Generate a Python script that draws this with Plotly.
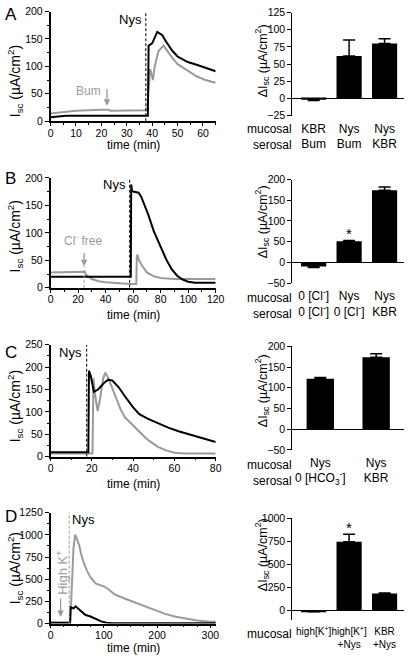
import plotly.graph_objects as go

W, H = 415, 663
FONT = "Liberation Sans, Arial, sans-serif"
GREY = "#9a9a9a"
BLACK = "#000000"

# ---------------- data: time courses ----------------
# Panel A (Bum serosal)
tA_black = [0, 3, 6, 10, 20, 30, 38.3, 38.6, 40, 42, 44, 45.5, 48, 50, 54, 57.5, 61, 65]
iA_black = [7, 9, 10, 10, 10, 10, 10, 138, 142, 163, 157, 145, 128, 118, 108, 103, 97, 91]
tA_grey = [0, 5, 10, 20, 22, 22.5, 23.5, 30, 38, 38.6, 39.2, 39.8, 40.3, 41, 42.5, 44.5, 46, 48, 50, 54, 57.5, 61, 65]
iA_grey = [14, 17, 19, 21, 22, 21, 19, 20, 20, 60, 95, 85, 75, 100, 128, 138, 128, 115, 104, 92, 82, 75, 70]
nys_A, bum_A = 37.5, 22.2

# Panel B (Cl- free)
tB_black = [0, 25, 58.3, 58.6, 59.2, 60, 62, 64, 66, 68, 71, 75, 80, 84, 88, 92, 96, 100, 105, 110, 120]
iB_black = [20, 20, 20, 188, 176, 175, 174, 173, 165, 152, 133, 103, 74, 52, 34, 22, 15, 11, 9, 9, 9]
tB_grey = [0, 24.5, 25, 25.5, 27, 30, 35, 40, 50, 58, 62.3, 62.7, 63.3, 64, 66, 68, 70, 75, 80, 90, 100, 120]
iB_grey = [28, 28, 29, 25, 21, 16, 12, 10, 8, 7, 7, 58, 60, 52, 42, 34, 28, 21, 18, 16, 16, 16]
nys_B, clfree_B = 57.5, 24.4

# Panel C (HCO3- free)
tC_black = [0, 18.3, 18.6, 19.5, 21, 23, 26, 28, 30, 33, 36, 40, 43, 47, 52, 57, 62, 67, 72, 76, 80]
iC_black = [10, 10, 192, 180, 145, 150, 165, 172, 170, 155, 135, 110, 95, 85, 75, 65, 57, 50, 44, 38, 33]
tC_grey = [0, 20.3, 20.8, 21.5, 22.8, 24, 25.5, 26.5, 28, 31, 34, 36, 40, 43, 47, 52, 56, 60, 65, 80]
iC_grey = [7, 7, 175, 140, 102, 130, 175, 188, 175, 140, 105, 88, 70, 55, 38, 22, 14, 9, 7, 7]
nys_C = 17.5

# Panel D (high K+)
tD_grey = [0, 37, 38, 40, 43, 46, 48, 50, 52, 54, 57, 62, 68, 75, 85, 95, 100, 108, 120, 140, 155, 175, 195, 215, 235, 255, 275, 300, 320]
iD_grey = [10, 10, 150, 500, 850, 1000, 980, 940, 900, 880, 790, 690, 600, 520, 450, 425, 420, 390, 330, 280, 245, 200, 150, 110, 78, 55, 35, 22, 18]
tD_black = [0, 36.5, 37.5, 40, 43, 47, 52, 58, 65, 75, 85, 95, 105, 115, 320]
iD_black = [10, 10, 185, 175, 170, 195, 170, 130, 100, 80, 50, 25, 10, 5, 5]
nys_D, highk_D = 35, 18.8

# ---------------- data: bar summaries ----------------
barA_cats = ["KBR<br>Bum", "Nys<br>Bum", "Nys<br>KBR"]
barA_vals = [-2, 62, 80]
barA_err = [1, 23, 7]
barA_star = [False, False, False]

barB_cats = ["0 [Cl<sup>-</sup>]<br>0 [Cl<sup>-</sup>]", "Nys<br>0 [Cl<sup>-</sup>]", "Nys<br>KBR"]
barB_vals = [-10, 51, 174]
barB_err = [2, 2, 8]
barB_star = [False, True, False]

barC_cats = ["Nys<br>0 [HCO<sub>3</sub><sup>-</sup>]", "Nys<br>KBR"]
barC_vals = [122, 174]
barC_err = [3, 8]
barC_star = [False, False]

barD_cats = ["high[K<sup>+</sup>]", "high[K<sup>+</sup>]<br>+Nys", "KBR<br>+Nys"]
barD_vals = [-10, 745, 184]
barD_err = [2, 82, 5]
barD_star = [False, True, False]


def xdom(l, r):
    return [l / W, r / W]


def ydom(top, bottom):
    return [1 - bottom / H, 1 - top / H]


def PY(p):
    return 1 - p / H


def PX(p):
    return p / W


fig = go.Figure()

trace_sets = [
    [(tA_grey, iA_grey, GREY), (tA_black, iA_black, BLACK)],
    [(tB_grey, iB_grey, GREY), (tB_black, iB_black, BLACK)],
    [(tC_grey, iC_grey, GREY), (tC_black, iC_black, BLACK)],
    [(tD_grey, iD_grey, GREY), (tD_black, iD_black, BLACK)],
]
bar_sets = [
    (barA_cats, barA_vals, barA_err, barA_star),
    (barB_cats, barB_vals, barB_err, barB_star),
    (barC_cats, barC_vals, barC_err, barC_star),
    (barD_cats, barD_vals, barD_err, barD_star),
]

trace_panels = [
    dict(dy=(5.7, 117.3), xr=[0, 65], xd=10, xm=5, yr=[0, 200], yd=50, ym=25),
    dict(dy=(175, 287), xr=[0, 120], xd=20, xm=10, yr=[0, 200], yd=50, ym=25),
    dict(dy=(345, 459), xr=[0, 80], xd=20, xm=10, yr=[0, 250], yd=50, ym=25),
    dict(dy=(516, 629), xr=[0, 310], xd=100, xm=25, yr=[0, 1250], yd=250, ym=125),
]
bar_panels = [
    dict(dy=(6.7, 111.7), yr=[-25, 125], yd=25, xr=[-0.6, 2.55], bw=0.71, fs=12),
    dict(dy=(176.7, 282.3), yr=[-50, 200], yd=50, xr=[-0.6, 2.55], bw=0.71, fs=12),
    dict(dy=(346.7, 452), yr=[-50, 200], yd=50, xr=[-0.5, 1.5], bw=0.49, fs=12),
    dict(dy=(521.7, 625.1), yr=[-100, 1000], yd=250, xr=[-0.6, 2.55], bw=0.71, fs=10),
]

layout = dict(
    width=W, height=H, margin=dict(l=0, r=0, t=0, b=0),
    paper_bgcolor="white", plot_bgcolor="white",
    font=dict(family=FONT, size=11, color="black"),
    showlegend=False,
)
annotations = []
shapes = []

for i in range(4):
    tx, ty = f"x{2*i+1}", f"y{2*i+1}"
    bx, by = f"x{2*i+2}", f"y{2*i+2}"
    tp = trace_panels[i]
    bp = bar_panels[i]
    for (t, v, c) in trace_sets[i]:
        fig.add_trace(go.Scatter(x=t, y=v, mode="lines", line=dict(color=c, width=2),
                                 xaxis=tx, yaxis=ty, hoverinfo="skip"))
    layout[f"xaxis{2*i+1}"] = dict(
        domain=xdom(49, 219), anchor=ty, range=tp["xr"], dtick=tp["xd"], tick0=0,
        showline=True, linecolor="black", linewidth=1.5, ticks="outside", ticklen=3,
        tickwidth=1.2, tickcolor="black", showgrid=False, zeroline=False,
        tickfont=dict(size=10.5), tickangle=0, ticklabelstandoff=-2,
        minor=dict(ticks="outside", ticklen=2, dtick=tp["xm"], tickcolor="black", tickwidth=1),
    )
    layout[f"yaxis{2*i+1}"] = dict(
        domain=ydom(*tp["dy"]), anchor=tx, range=tp["yr"], dtick=tp["yd"], tick0=0,
        showline=True, linecolor="black", linewidth=1.5, ticks="outside", ticklen=4,
        tickwidth=1.2, tickcolor="black", showgrid=False, zeroline=False,
        tickfont=dict(size=10.5),
        minor=dict(ticks="outside", ticklen=2, dtick=tp["ym"], tickcolor="black", tickwidth=1),
    )

    cats, vals, errs, stars = bar_sets[i]
    plus = [e if v >= 0 else 0 for v, e in zip(vals, errs)]
    minus = [e if v < 0 else 0 for v, e in zip(vals, errs)]
    fig.add_trace(go.Bar(
        x=cats, y=vals, width=bp["bw"], marker=dict(color="black", line=dict(width=0)),
        error_y=dict(type="data", symmetric=False, array=plus, arrayminus=minus,
                     color="black", thickness=1.5, width=6),
        xaxis=bx, yaxis=by, hoverinfo="skip"))
    for c, v, e, s in zip(cats, vals, errs, stars):
        if s:
            annotations.append(dict(xref=bx, yref=by, x=c, y=v + e, text="*", showarrow=False,
                                    yanchor="bottom", font=dict(size=15), yshift=-4))
    layout[f"xaxis{2*i+2}"] = dict(
        domain=xdom(298, 413), anchor=by, type="category", range=bp["xr"],
        showline=False, ticks="", showgrid=False, zeroline=False, tickangle=0,
        tickfont=dict(size=bp["fs"]), ticklabelstandoff=4,
    )
    layout[f"yaxis{2*i+2}"] = dict(
        domain=ydom(*bp["dy"]), anchor=bx, range=bp["yr"], dtick=bp["yd"], tick0=0,
        showline=True, linecolor="black", linewidth=1.2, ticks="outside", ticklen=4,
        tickwidth=1.2, tickcolor="black", showgrid=False,
        zeroline=True, zerolinecolor="black", zerolinewidth=1.2,
        tickfont=dict(size=10.5),
    )

# panel letters
for letter, yc in zip(["A", "B", "C", "D"], [9, 176, 353, 520]):
    annotations.append(dict(xref="paper", yref="paper", x=PX(8), y=PY(yc), text=letter,
                            showarrow=False, font=dict(size=17), xanchor="center", yanchor="middle"))
# y titles (traces)
for yc in [77, 235, 408, 573]:
    annotations.append(dict(xref="paper", yref="paper", x=PX(12), y=PY(yc),
                            text="I<sub>sc</sub> (µA/cm<sup>2</sup>)", textangle=-90,
                            showarrow=False, font=dict(size=14), xanchor="center", yanchor="middle"))
# y titles (bars)
for yc in [56, 220, 392, 559]:
    annotations.append(dict(xref="paper", yref="paper", x=PX(267), y=PY(yc),
                            text="ΔI<sub>sc</sub> (µA/cm<sup>2</sup>)", textangle=-90,
                            showarrow=False, font=dict(size=12.5), xanchor="center", yanchor="middle"))
# time titles
for yc in [142, 315, 487, 654]:
    annotations.append(dict(xref="paper", yref="paper", x=PX(134), y=PY(yc), text="time (min)",
                            showarrow=False, font=dict(size=12), xanchor="center", yanchor="middle"))
# mucosal / serosal row labels
for yc, txt in zip([116, 288, 458, 630], ["mucosal<br>serosal", "mucosal<br>serosal",
                                          "mucosal<br>serosal", "mucosal"]):
    annotations.append(dict(xref="paper", yref="paper", x=PX(300), y=PY(yc), text=txt,
                            showarrow=False, font=dict(size=12), xanchor="right", yanchor="top",
                            align="right"))

# Nys event markers
dash = "3px,2px"
for (xr_, yr_, t, ytop, col) in [("x1", "y1", nys_A, 200, BLACK), ("x3", "y3", nys_B, 200, BLACK),
                                 ("x5", "y5", nys_C, 250, BLACK), ("x7", "y7", nys_D, 1250, GREY)]:
    shapes.append(dict(type="line", xref=xr_, yref=yr_, x0=t, x1=t, y0=0, y1=ytop,
                       line=dict(color=col, width=1, dash=dash)))
annotations += [
    dict(xref="x1", yref="y1", x=nys_A, y=186, text="Nys", showarrow=False, xanchor="right",
         xshift=-2, font=dict(size=13)),
    dict(xref="x3", yref="y3", x=nys_B, y=187, text="Nys", showarrow=False, xanchor="right",
         xshift=-2, font=dict(size=13)),
    dict(xref="x5", yref="y5", x=nys_C, y=232, text="Nys", showarrow=False, xanchor="right",
         xshift=-3, font=dict(size=13)),
    dict(xref="x7", yref="y7", x=nys_D, y=1172, text="Nys", showarrow=False, xanchor="left",
         xshift=1, font=dict(size=13)),
]
# Bum arrow (A)
annotations += [
    dict(xref="x1", yref="y1", x=bum_A, y=28, ax=bum_A, ay=61, axref="x1", ayref="y1", text="",
         showarrow=True, arrowhead=2, arrowsize=1, arrowwidth=1.3, arrowcolor=GREY),
    dict(xref="x1", yref="y1", x=20.8, y=55, text="Bum", showarrow=False, xanchor="right",
         font=dict(size=12, color=GREY)),
]
# Cl- free arrow (B)
annotations += [
    dict(xref="x3", yref="y3", x=clfree_B, y=39, ax=clfree_B, ay=66, axref="x3", ayref="y3", text="",
         showarrow=True, arrowhead=2, arrowsize=1, arrowwidth=1.3, arrowcolor=GREY),
    dict(xref="x3", yref="y3", x=23.4, y=87, text="Cl<sup>-</sup> free", showarrow=False,
         xanchor="center", font=dict(size=12, color=GREY)),
]
shapes.append(dict(type="line", xref="x3", yref="y3", x0=clfree_B, x1=clfree_B, y0=0, y1=39,
                   line=dict(color=GREY, width=1, dash=dash)))
# High K+ arrow (D)
annotations += [
    dict(xref="x7", yref="y7", x=highk_D, y=75, ax=highk_D, ay=300, axref="x7", ayref="y7", text="",
         showarrow=True, arrowhead=2, arrowsize=1, arrowwidth=1.3, arrowcolor=GREY),
    dict(xref="x7", yref="y7", x=20, y=575, text="High K<sup>+</sup>", showarrow=False,
         textangle=-90, xanchor="center", yanchor="middle", font=dict(size=13, color=GREY)),
]

layout["annotations"] = annotations
layout["shapes"] = shapes
fig.update_layout(**layout)
fig.write_html("out.html", config={"displayModeBar": False},
               post_script="document.body.style.margin='0';document.body.style.overflow='hidden';")
